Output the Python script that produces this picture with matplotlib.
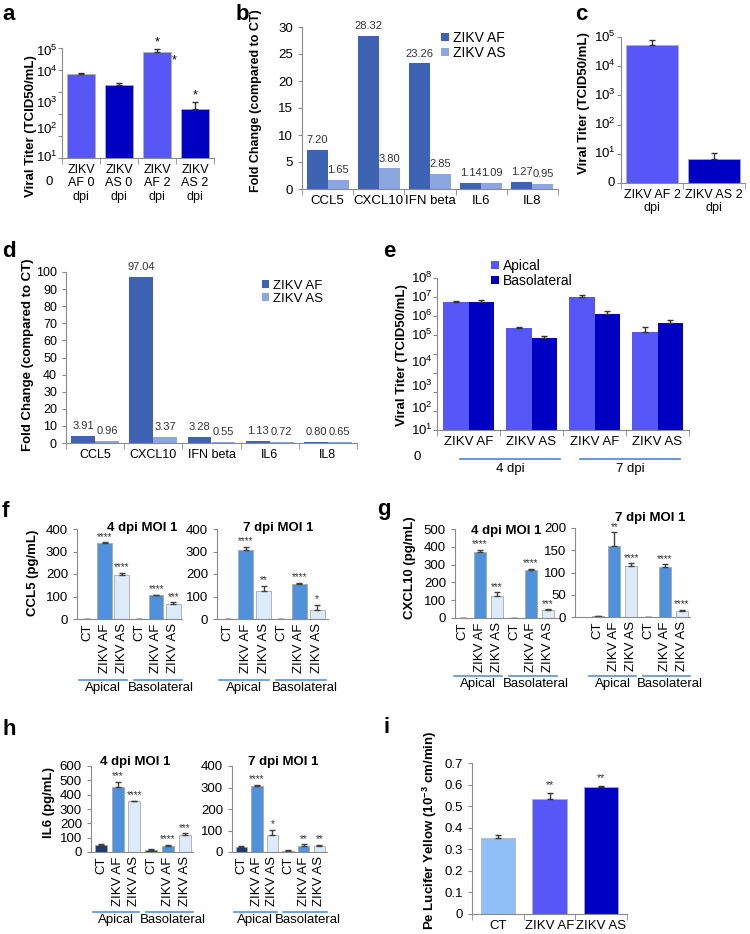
import numpy as np
import matplotlib
matplotlib.use('Agg')
import matplotlib.pyplot as plt
from matplotlib.transforms import blended_transform_factory

plt.rcParams['font.family'] = ['Liberation Sans', 'DejaVu Sans']
plt.rcParams['font.size'] = 9
plt.rcParams['mathtext.fontset'] = 'custom'
plt.rcParams['mathtext.rm'] = 'Liberation Sans'
plt.rcParams['mathtext.bf'] = 'Liberation Sans:bold'

W, H = 750, 934

# ---------------- data ----------------
# a: viral titer, 0 and 2 dpi
a_labels = ['ZIKV\nAF 0\ndpi', 'ZIKV\nAS 0\ndpi', 'ZIKV\nAF 2\ndpi', 'ZIKV\nAS 2\ndpi']
a_titer = [6600, 2100, 63000, 163]
a_err = [1000, 540, 24000, 177]

# b / d: fold change
fc_genes = ['CCL5', 'CXCL10', 'IFN beta', 'IL6', 'IL8']
b_af = [7.20, 28.32, 23.26, 1.14, 1.27]
b_as = [1.65, 3.80, 2.85, 1.09, 0.95]
d_af = [3.91, 97.04, 3.28, 1.13, 0.80]
d_as = [0.96, 3.37, 0.55, 0.72, 0.65]

# c: viral titer 2 dpi
c_labels = ['ZIKV AF 2\ndpi', 'ZIKV AS 2\ndpi']
c_titer = [53700, 6.6]
c_err = [27600, 4.4]

# e: apical / basolateral titer
e_labels = ['ZIKV AF', 'ZIKV AS', 'ZIKV AF', 'ZIKV AS']
e_apical = [5.6e6, 2.2e5, 9.5e6, 1.45e5]
e_apical_err = [0.7e6, 0.6e5, 3.1e6, 1.05e5]
e_baso = [5.5e6, 6.9e4, 1.23e6, 4.1e5]
e_baso_err = [1.7e6, 2.0e4, 6.3e5, 1.8e5]

# f/g/h: cytokines (CT, AF, AS apical; CT, AF, AS basolateral)
cyto_labels = ['CT', 'ZIKV AF', 'ZIKV AS'] * 2
f4_val = [0, 338, 197, 0, 105, 65]
f4_err = [0, 3, 8, 0, 3, 10]
f4_star = ['', '****', '****', '', '****', '***']
f7_val = [0, 305, 125, 0, 157, 42]
f7_err = [0, 17, 23, 0, 3, 21]
f7_star = ['', '****', '**', '', '****', '*']
g4_val = [0, 368, 125, 0, 268, 45]
g4_err = [0, 15, 20, 0, 10, 5]
g4_star = ['', '****', '***', '', '****', '***']
g7_val = [2, 160, 115, 0, 113, 13]
g7_err = [0, 30, 6, 0, 6, 3]
g7_star = ['', '**', '****', '', '****', '****']
h4_val = [50, 455, 355, 15, 42, 118]
h4_err = [5, 35, 3, 5, 8, 12]
h4_star = ['', '***', '****', '', '****', '***']
h7_val = [22, 308, 78, 5, 28, 30]
h7_err = [5, 4, 25, 2, 9, 4]
h7_star = ['', '****', '*', '', '**', '**']

# i: lucifer yellow permeability
i_labels = ['CT', 'ZIKV AF', 'ZIKV AS']
i_val = [0.352, 0.533, 0.590]
i_err = [0.013, 0.029, 0.005]
i_star = ['', '**', '**']

# ---------------- style ----------------
C_AF = '#5757f7'
C_AS = '#0000c2'
C_CTI = '#90bef6'
C_FAF = '#3f63b3'
C_FAS = '#8ca7dd'
C_CT = '#1f3b6b'
C_MAF = '#4f92db'
C_MAS = '#dcebf9'
SP = '#8a8a8a'
LINE = '#5b8fd6'

fig = plt.figure(figsize=(W / 100, H / 100), dpi=100)


def add_ax(x0, y0, x1, y1):
    ax = fig.add_axes([x0 / W, 1 - y1 / H, (x1 - x0) / W, (y1 - y0) / H])
    for s in ['top', 'right']:
        ax.spines[s].set_visible(False)
    for s in ['left', 'bottom']:
        ax.spines[s].set_color(SP)
    ax.tick_params(colors=SP, labelcolor='black', labelsize=9, length=3, width=0.8)
    return ax


def cat_ticks(ax, n, labels, **kw):
    ax.set_xticks(np.arange(n))
    ax.set_xticklabels(labels, **kw)
    ax.set_xticks(np.arange(n + 1) - 0.5, minor=True)
    ax.tick_params(axis='x', which='major', length=0, pad=4)
    ax.tick_params(axis='x', which='minor', length=4, color=SP)


def up_err(ax, x, v, e, c='#333333'):
    ax.errorbar(x, v, yerr=[np.zeros(len(e)), e], fmt='none', ecolor=c,
                elinewidth=1, capsize=2.5, capthick=1)


def log_labels(ax, ks, shifts, zero_at, xpad_px, zero_x_px):
    bb = ax.get_position()
    wpx = bb.width * W
    tr = blended_transform_factory(ax.transAxes, ax.transData)
    for k, s in zip(ks, shifts):
        ax.text(-xpad_px / wpx, 10 ** (k - s), r'$\mathregular{10^{%d}}$' % k, transform=tr,
                ha='right', va='center', fontsize=9.5)
    ax.text(-zero_x_px / wpx, 10 ** zero_at, '0', transform=tr, ha='center', va='center',
            fontsize=9.5)
    ax.set_yticklabels([])


def letter(x, y, s):
    fig.text(x / W, 1 - y / H, s, fontsize=16, fontweight='bold', va='baseline')


def ylab(x, y, s, size=9.5):
    fig.text(x / W, 1 - y / H, s, rotation=90, ha='center', va='center',
             fontsize=size, fontweight='bold')


def legend_at(ax, x, y, size):
    ax.legend(loc='upper left', bbox_to_anchor=(x / W, 1 - y / H),
              bbox_transform=fig.transFigure, frameon=False, fontsize=size,
              handlelength=0.55, handleheight=0.55, handletextpad=0.3,
              labelspacing=0.05, borderpad=0, borderaxespad=0)


# ---------------- a ----------------
ax = add_ax(62, 48, 214, 158)
xa = np.arange(4)
ax.bar(xa, a_titer, width=0.74, color=[C_AF, C_AS, C_AF, C_AS], edgecolor='#b0b0b0', linewidth=0.5)
up_err(ax, xa, a_titer, a_err)
ax.set_yscale('log')
ax.set_ylim(1, 1e5)
ax.set_xlim(-0.5, 3.5)
ax.set_yticks([10 ** k for k in range(6)])
ax.yaxis.set_minor_locator(matplotlib.ticker.NullLocator())
log_labels(ax, [5, 4, 3, 2, 1], [0.15, 0.1, 0.5, 0.7, 0.95], -1.1, 4, 13)
cat_ticks(ax, 4, a_labels, linespacing=1.2)
ax.text(2, (a_titer[2] + a_err[2]) * 1.15, '*', ha='center', va='bottom', fontsize=9)
ax.text(2.45, a_titer[2] * 0.45, '*', ha='center', va='center', fontsize=9)
ax.text(3, (a_titer[3] + a_err[3]) * 1.15, '*', ha='center', va='bottom', fontsize=9)
ylab(31, 126, 'Viral Titer (TCID50/mL)')
letter(2, 20, 'a')


# ---------------- b / d ----------------
def fold_panel(rect, af, aS, ymax, step, leg_xy, cat_size, val_size, leg_size):
    ax = add_ax(*rect)
    x = np.arange(len(fc_genes))
    bw = 0.41
    ax.bar(x - bw / 2, af, width=bw, color=C_FAF, label='ZIKV AF')
    ax.bar(x + bw / 2, aS, width=bw, color=C_FAS, label='ZIKV AS')
    for xi, v in zip(x, af):
        ax.text(xi - bw / 2, v + ymax * 0.03, '%.2f' % v, ha='center', va='bottom',
                fontsize=val_size, color='#333333')
    for xi, v in zip(x, aS):
        ax.text(xi + bw / 2, v + ymax * 0.03, '%.2f' % v, ha='center', va='bottom',
                fontsize=val_size, color='#333333')
    ax.set_ylim(0, ymax)
    ax.set_xlim(-0.5, len(fc_genes) - 0.5)
    ax.set_yticks(np.arange(0, ymax + 1, step))
    ax.set_yticklabels([str(int(t)) for t in np.arange(0, ymax + 1, step)], fontsize=cat_size)
    cat_ticks(ax, len(fc_genes), fc_genes, fontsize=cat_size)
    legend_at(ax, leg_xy[0], leg_xy[1], leg_size)
    return ax


fold_panel((302, 27, 558, 189), b_af, b_as, 30, 5, (441, 31), 9.5, 8, 10)
ylab(256, 101, 'Fold Change (compared to CT)', size=9)
letter(236, 20, 'b')

fold_panel((66, 272, 357, 443), d_af, d_as, 100, 10, (262, 280), 9, 8, 9.5)
ylab(28, 355, 'Fold Change (compared to CT)')
letter(2, 257, 'd')

# ---------------- c ----------------
ax = add_ax(621, 37, 745, 183)
xc = np.arange(2)
ax.bar(xc, c_titer, width=0.85, color=[C_AF, C_AS], edgecolor='#b0b0b0', linewidth=0.5)
up_err(ax, xc, c_titer, c_err)
ax.set_yscale('log')
ax.set_ylim(1, 1e5)
ax.set_xlim(-0.5, 1.5)
ax.set_yticks([10 ** k for k in range(6)])
ax.yaxis.set_minor_locator(matplotlib.ticker.NullLocator())
log_labels(ax, [5, 4, 3, 2, 1], [0, 0, 0, 0, 0], 0, 5, 10)
cat_ticks(ax, 2, c_labels, fontsize=9, linespacing=1.2)
ylab(584, 103, 'Viral Titer (TCID50/mL)')
letter(575, 20, 'c')

# ---------------- e ----------------
ax = add_ax(437, 278, 689, 430)
xe = np.arange(4)
bw = 0.4
ax.bar(xe - bw / 2, e_apical, width=bw, color=C_AF, label='Apical')
ax.bar(xe + bw / 2, e_baso, width=bw, color=C_AS, label='Basolateral')
up_err(ax, xe - bw / 2, e_apical, e_apical_err)
up_err(ax, xe + bw / 2, e_baso, e_baso_err)
ax.set_yscale('log')
ax.set_ylim(1, 1e8)
ax.set_xlim(-0.5, 3.5)
ax.set_yticks([10 ** k for k in range(9)])
ax.yaxis.set_minor_locator(matplotlib.ticker.NullLocator())
log_labels(ax, [8, 7, 6, 5, 4, 3, 2, 1], [0, 0, 0, 0, 0.45, 0.72, 0.85, 1.0], -1.4, 4, 20)
cat_ticks(ax, 4, e_labels, fontsize=9.5)
legend_at(ax, 491, 259, 10)
tr = blended_transform_factory(ax.transData, fig.transFigure)
for (x0, x1), txt in zip([(-0.13, 1.45), (1.77, 3.36)], ['4 dpi', '7 dpi']):
    ax.plot([x0, x1], [1 - 459 / H] * 2, color=LINE, lw=1.3, transform=tr, clip_on=False)
    ax.text((x0 + x1) / 2, 1 - 463 / H, txt, transform=tr, ha='center', va='top', fontsize=9.5)
ylab(402, 355, 'Viral Titer (TCID50/mL)')
letter(383, 257, 'e')


# ---------------- f / g / h ----------------
def cyto(rect, vals, errs, stars, ymax, step, bw, xlim, title, title_px, grp_y):
    ax = add_ax(*rect)
    x = np.arange(6)
    ax.bar(x, vals, width=bw, color=[C_CT, C_MAF, C_MAS] * 2, edgecolor='#a8a8a8', linewidth=0.6)
    up_err(ax, x, vals, errs, c='#404040')
    for xi, v, e, s in zip(x, vals, errs, stars):
        if s:
            ax.text(xi, v + e + ymax * 0.005, s, ha='center', va='bottom', fontsize=7,
                    color='#333333')
    ax.set_ylim(0, ymax)
    ax.set_xlim(*xlim)
    ax.set_yticks(np.arange(0, ymax + 1, step))
    ax.tick_params(axis='y', labelsize=9.5)
    ax.set_xticks(x)
    ax.set_xticklabels(cyto_labels, rotation=90, fontsize=9.5)
    ax.tick_params(axis='x', length=0, pad=3)
    fig.text(title_px[0] / W, 1 - title_px[1] / H, title, ha='center', va='center',
             fontsize=9.5, fontweight='bold')
    tr = blended_transform_factory(ax.transData, fig.transFigure)
    for (x0, x1), c, txt in zip([(-0.5, 2.3), (2.7, 5.5)], [0.9, 4.3], ['Apical', 'Basolateral']):
        ax.plot([x0, x1], [1 - grp_y / H] * 2, color=LINE, lw=1.2, transform=tr, clip_on=False)
        ax.text(c, 1 - (grp_y + 2) / H, txt, transform=tr, ha='center', va='top', fontsize=9.5)
    return ax


cyto((77, 529, 182, 619), f4_val, f4_err, f4_star, 400, 100, 0.85, (-0.6, 5.5),
     '4 dpi MOI 1', (142, 528), 680)
cyto((217, 529, 328, 619), f7_val, f7_err, f7_star, 400, 100, 0.85, (-0.6, 5.6),
     '7 dpi MOI 1', (278, 528), 680)
ylab(33, 573, 'CCL5 (pg/mL)')
letter(2, 517, 'f')

cyto((455, 529, 560, 618), g4_val, g4_err, g4_star, 500, 100, 0.72, (-0.45, 5.7),
     '4 dpi MOI 1', (506, 531), 676)
cyto((575, 528, 690, 617), g7_val, g7_err, g7_star, 200, 50, 0.72, (-1.35, 5.5),
     '7 dpi MOI 1', (650, 518), 676)
ylab(410, 568, 'CXCL10 (pg/mL)')
letter(377, 515, 'g')

cyto((91, 766, 193, 852), h4_val, h4_err, h4_star, 600, 100, 0.72, (-0.6, 5.5),
     '4 dpi MOI 1', (135, 762), 912)
cyto((232, 766, 327, 852), h7_val, h7_err, h7_star, 400, 100, 0.72, (-0.6, 5.5),
     '7 dpi MOI 1', (283, 762), 912)
ylab(49, 803, 'IL6 (pg/mL)')
letter(2, 735, 'h')

# ---------------- i ----------------
ax = add_ax(472, 763, 627, 914)
xi_ = np.arange(3)
ax.bar(xi_, i_val, width=0.67, color=[C_CTI, C_AF, C_AS], edgecolor='#b0b0b0', linewidth=0.5)
up_err(ax, xi_, i_val, i_err)
for x, v, e, s in zip(xi_, i_val, i_err, i_star):
    if s:
        ax.text(x, v + e + 0.012, s, ha='center', va='bottom', fontsize=7.5, color='#333333')
ax.set_ylim(0, 0.7)
ax.set_xlim(-0.5, 2.5)
yt = np.round(np.arange(0, 0.71, 0.1), 1)
ax.set_yticks(yt)
ax.set_yticklabels(['0'] + ['%.1f' % t for t in yt[1:]], fontsize=9.5)
cat_ticks(ax, 3, i_labels, fontsize=9.5)
ylab(430, 830, r'Pe Lucifer Yellow (10$^{\mathbf{-3}}$ cm/min)')
letter(383, 733, 'i')

fig.savefig('out.png', dpi=100)
